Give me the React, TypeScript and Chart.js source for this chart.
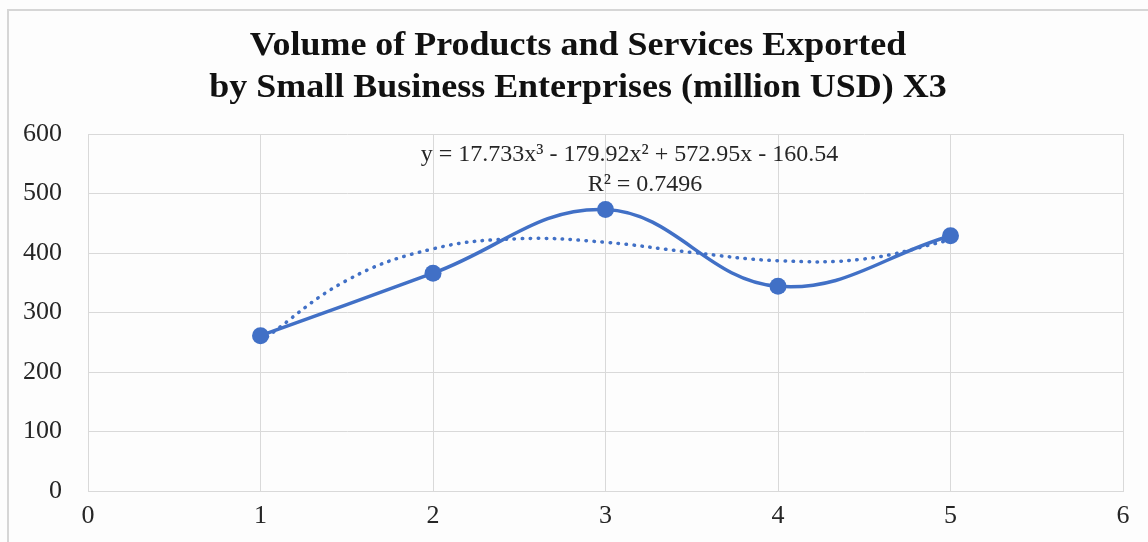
import React, { useEffect, useRef } from "react";
import { Chart, registerables } from "chart.js";

Chart.register(...registerables);

const TITLE_LINES = [
  "Volume of Products and Services Exported",
  "by Small Business Enterprises (million USD) X3",
];
const X_VALUES = [1, 2, 3, 4, 5];
const Y_VALUES = [261, 366, 473, 344, 429];
// dotted polynomial trend line
const TREND_X = [1, 1.5, 2, 2.5, 3, 3.5, 4, 4.5, 5];
const TREND_Y = [251, 354, 407, 424, 418, 401, 387, 390, 422];
const EQUATION = "y = 17.733x³ - 179.92x² + 572.95x - 160.54";
const R_SQUARED = "R² = 0.7496";
const X_MIN = 0;
const X_MAX = 6;
const Y_MIN = 0;
const Y_MAX = 600;
const Y_STEP = 100;

const BLUE = "#4170C6";
const GRID = "#d9d9d9";
const TEXT = "#262626";
const SERIF = "'Liberation Serif', 'Times New Roman', serif";

const framePlugin = {
  id: "frame",
  beforeDraw(chart: any) {
    const ctx = chart.ctx;
    ctx.save();
    ctx.fillStyle = "#fdfdfd";
    ctx.fillRect(0, 0, chart.width, chart.height);
    ctx.strokeStyle = "#d6d6d6";
    ctx.lineWidth = 2;
    ctx.strokeRect(8, 10, chart.width + 20, chart.height + 20);
    ctx.restore();
  },
};

const titlePlugin = {
  id: "stretchedTitle",
  afterDraw(chart: any) {
    const ctx = chart.ctx;
    const cx = 578;
    const stretch = 1.09;
    ctx.save();
    ctx.fillStyle = "#111";
    ctx.font = `bold 33px ${SERIF}`;
    ctx.textAlign = "center";
    ctx.textBaseline = "middle";
    TITLE_LINES.forEach((line, i) => {
      ctx.save();
      ctx.translate(cx, 46 + i * 42);
      ctx.scale(stretch, 1);
      ctx.fillText(line, 0, 0);
      ctx.restore();
    });
    ctx.restore();
  },
};

const equationPlugin = {
  id: "equation",
  afterDatasetsDraw(chart: any) {
    const { ctx, scales } = chart;
    const x = scales.x;
    const y = scales.y;
    ctx.save();
    ctx.fillStyle = TEXT;
    ctx.font = `24px ${SERIF}`;
    ctx.textAlign = "center";
    ctx.textBaseline = "alphabetic";
    ctx.fillText(EQUATION, x.getPixelForValue(3.139), y.getPixelForValue(555));
    ctx.fillText(R_SQUARED, x.getPixelForValue(3.229), y.getPixelForValue(504));
    ctx.restore();
  },
};

export default function App() {
  const ref = useRef<HTMLCanvasElement | null>(null);
  useEffect(() => {
    if (!ref.current) return;
    const chart = new Chart(ref.current, {
      type: "scatter",
      data: {
        datasets: [
          {
            label: "Exports",
            data: X_VALUES.map((x, i) => ({ x, y: Y_VALUES[i] })),
            showLine: true,
            borderColor: BLUE,
            backgroundColor: BLUE,
            borderWidth: 3.5,
            pointRadius: 8.5,
            pointHoverRadius: 8.5,
            pointBorderWidth: 0,
            tension: 0.4,
            order: 1,
          },
          {
            label: "Trend",
            data: TREND_X.map((x, i) => ({ x, y: TREND_Y[i] })),
            showLine: true,
            borderColor: BLUE,
            borderWidth: 3.5,
            borderDash: [0.5, 7.5],
            borderCapStyle: "round",
            pointRadius: 0,
            tension: 0.4,
            order: 2,
          },
        ],
      },
      options: {
        animation: false,
        responsive: false,
        maintainAspectRatio: false,
        layout: { padding: { left: 0, right: 25, top: 134, bottom: 0 } },
        plugins: {
          legend: { display: false },
          tooltip: { enabled: false },
          title: { display: false },
        },
        scales: {
          x: {
            type: "linear",
            min: X_MIN,
            max: X_MAX,
            ticks: {
              stepSize: 1,
              color: TEXT,
              padding: 10,
              font: { family: SERIF, size: 26 },
            },
            grid: { color: GRID, lineWidth: 1, drawTicks: false },
            border: { color: GRID },
            afterFit(scale: any) {
              scale.height = 51;
            },
          },
          y: {
            min: Y_MIN,
            max: Y_MAX,
            ticks: {
              stepSize: Y_STEP,
              color: TEXT,
              padding: 26,
              font: { family: SERIF, size: 26 },
            },
            grid: { color: GRID, lineWidth: 1, drawTicks: false },
            border: { color: GRID },
            afterFit(scale: any) {
              scale.width = 88;
            },
          },
        },
      },
      plugins: [framePlugin, equationPlugin, titlePlugin],
    });
    return () => chart.destroy();
  }, []);
  return (
    <div style={{ position: "fixed", left: 0, top: 0, width: 1148, height: 542 }}>
      <canvas ref={ref} width={1148} height={542} style={{ display: "block" }} />
    </div>
  );
}
